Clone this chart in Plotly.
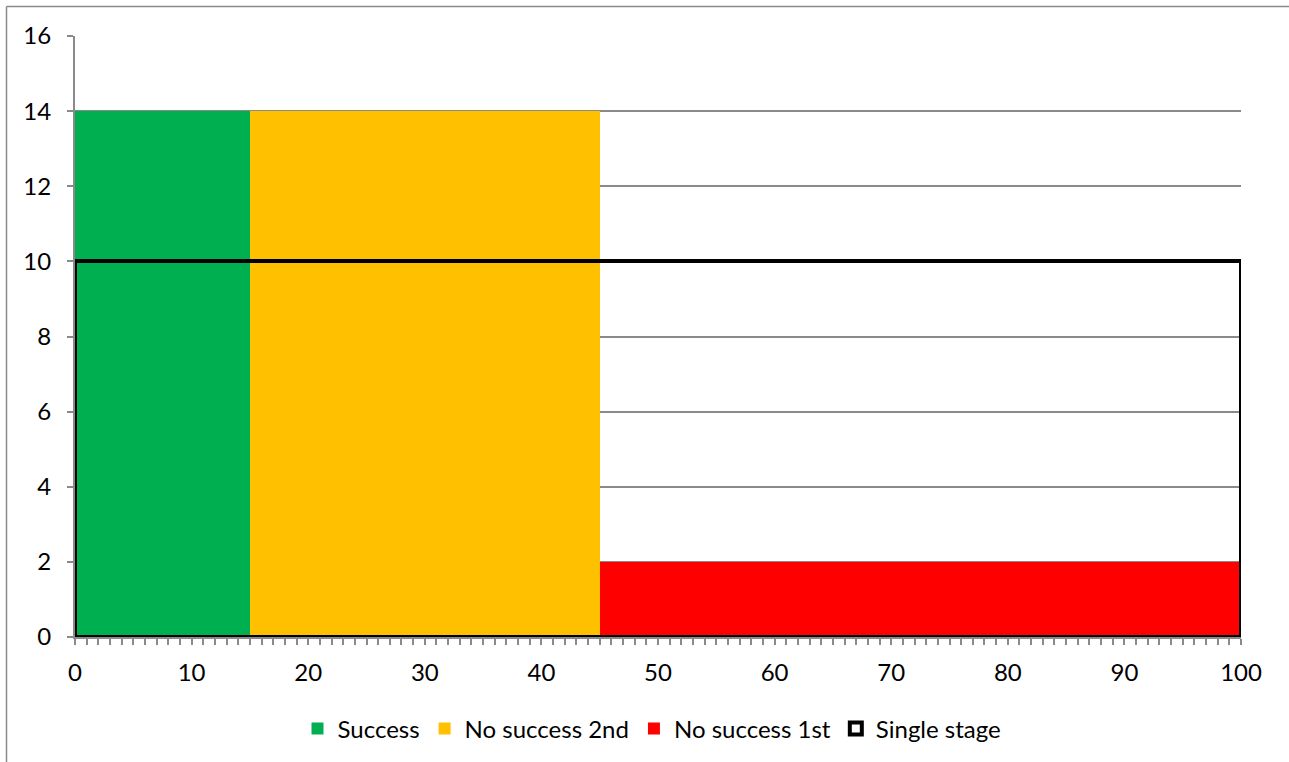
import plotly.graph_objects as go

# Segments along the 0-100 axis: start, width and height of each block
series_names = ["Success", "No success 2nd", "No success 1st"]
seg_start = [0, 15, 45]
seg_width = [15, 30, 55]
seg_height = [14, 14, 2]
seg_colors = ["#00B050", "#FFC000", "#FF0000"]

# Single-stage reference block
single_name = "Single stage"
single_start = 0
single_width = 100
single_height = 10

y_ticks = [0, 2, 4, 6, 8, 10, 12, 14, 16]
x_ticks = [0, 10, 20, 30, 40, 50, 60, 70, 80, 90, 100]

W, H = 1289, 762
L, R, T, B = 75, 48, 36, 125
pw, ph = W - L - R, H - T - B

fig = go.Figure()
for i, (name, s, w, h, c) in enumerate(zip(series_names, seg_start, seg_width, seg_height, seg_colors)):
    fig.add_trace(go.Bar(
        name=name, x=[s + w / 2], y=[h], width=[w], legendgroup=f"g{i}",
        marker=dict(color=c, line=dict(width=0)),
    ))

fig.add_trace(go.Bar(
    name=single_name, x=[single_start + single_width / 2], y=[single_height],
    width=[single_width], legendgroup="g3",
    marker=dict(color="rgba(0,0,0,0)", line=dict(color="black", width=4)),
))

grid = "#8a8a8a"
font = "Lato, Calibri, Carlito, sans-serif"

fig.update_layout(
    width=W, height=H,
    margin=dict(l=L, r=R, t=T, b=B, autoexpand=False),
    paper_bgcolor="white", plot_bgcolor="white",
    barmode="overlay", bargap=0,
    font=dict(family=font, size=24, color="black"),
    showlegend=True,
    legend=dict(
        orientation="h", x=(652 - L) / pw, xanchor="center",
        y=(T + ph - 729) / ph, yanchor="middle",
        font=dict(family=font, size=24), itemwidth=30,
        traceorder="grouped", tracegroupgap=14, bgcolor="rgba(0,0,0,0)",
    ),
    xaxis=dict(
        range=[0, 100], tickvals=x_ticks, showgrid=False, zeroline=False,
        showline=True, linecolor=grid, linewidth=1.5,
        ticks="outside", ticklen=6, tickcolor=grid, tickwidth=1.5,
        minor=dict(dtick=1, ticks="outside", ticklen=6, tickcolor=grid, tickwidth=1.5, showgrid=False),
        ticklabelstandoff=7,
    ),
    yaxis=dict(
        range=[0, 16], tickvals=y_ticks, showgrid=True, gridcolor=grid, gridwidth=1.5,
        zeroline=False, showline=True, linecolor=grid, linewidth=2,
        ticks="outside", ticklen=6, tickcolor=grid, tickwidth=1.5,
        ticklabelstandoff=11,
    ),
    shapes=[
        dict(type="line", xref="paper", yref="paper",
             x0=(6.5 - L) / pw, x1=(W + 2 - L) / pw,
             y0=(T + ph - 6.5) / ph, y1=(T + ph - 6.5) / ph,
             line=dict(color=grid, width=1.5)),
        dict(type="line", xref="paper", yref="paper",
             x0=(6.5 - L) / pw, x1=(6.5 - L) / pw,
             y0=(T + ph - 6.5) / ph, y1=(T + ph - H - 2) / ph,
             line=dict(color=grid, width=1.5)),
    ],
)

fig.write_html("out.html")
